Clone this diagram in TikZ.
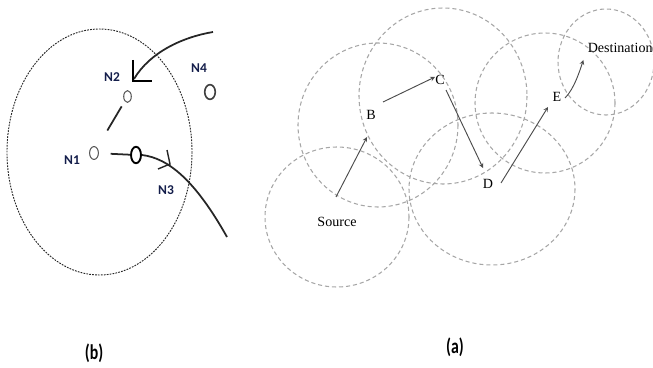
\documentclass[tikz,border=0pt]{standalone}
\usepackage{fontspec}
\setmainfont{Liberation Serif}
\newfontfamily\calibfont{Carlito}
\usetikzlibrary{shapes.geometric}
\definecolor{labelblue}{RGB}{20,30,75}

\begin{document}
\begin{tikzpicture}[>=stealth, x=0.03cm, y=-0.03cm,
    host/.style={draw=black!65, ellipse, inner sep=0pt, line width=0.9pt,
      minimum width=6.5pt, minimum height=10pt},
    nlabel/.style={font=\calibfont\bfseries\fontsize{11.5}{13}\selectfont,
      text=labelblue, inner sep=0pt},
    track/.style={line width=1.5pt, black!85},
    coverage/.style={gray!70, line width=0.9pt, dash pattern=on 3.5pt off 2.5pt},
    hop/.style={->, black!70, line width=0.8pt},
    tag/.style={font=\fontsize{12}{14}\selectfont, inner sep=1pt},
    caption/.style={font=\calibfont\bfseries\fontsize{18}{20}\selectfont, xscale=0.75}]
    \useasboundingbox (0,0) rectangle (653,367);

    % 1. Hình (b): vùng phủ sóng của N1
    \draw[black!85, line width=0.8pt, dash pattern=on 1.5pt off 1pt]
        (99.5,152) ellipse (92.5 and 123);

    % Các nút
    \node[host] (n2) at (127.5,96.5) {};
    \node[host, minimum width=7.5pt, minimum height=11pt] (n1) at (94,153) {};
    \node[host, draw=black, line width=1.6pt, minimum width=8.5pt, minimum height=14pt] (n3) at (136,155) {};
    \node[host, draw=black!75, line width=1.4pt, minimum width=9pt, minimum height=12.5pt] (n4) at (210,92) {};

    \node[nlabel] (l2) at (112,77) {N2};
    \node[nlabel] (l4) at (199,68) {N4};
    \node[nlabel] (l1) at (72,160) {N1};
    \node[nlabel] (l3) at (166,190) {N3};

    % Liên kết và đường di chuyển
    \draw[track, shorten <=17pt, shorten >=5pt] (n1) -- (n2);
    \draw[track, shorten <=10pt] (n1) -- (n3);
    \draw[track] (n3.east) .. controls (168,158) and (195,180) .. (227,237) coordinate (t3);
    \draw[track, line width=1.2pt] (167,150) -- (170,164) -- (158,169);

    \draw[track] (213,32) coordinate (t2) .. controls (183,37) and (150,52) .. (134,79);
    \draw[line width=1pt] (133,60) -- (133,82);
    \draw[line width=2.5pt] (133,81) -- (152,81);

    % 2. Hình (a): các vùng phủ sóng
    \draw[coverage] (337,217) ellipse (72 and 70);
    \draw[coverage] (378,125) ellipse (80 and 82);
    \draw[coverage] (443,96) ellipse (84 and 88);
    \draw[coverage] (492,189) ellipse (83 and 76);
    \draw[coverage] (545,103) ellipse (70 and 70);
    \draw[coverage] (606,62) ellipse (48 and 53);

    % Nhãn các nút
    \node[tag] (src) at (337,222) {Source};
    \node[tag] (hb) at (371,115) {B};
    \node[tag] (hc) at (440,80) {C};
    \node[tag] (hd) at (488,184) {D};
    \node[tag] (he) at (557,97) {E};
    \node[tag, anchor=east] (dst) at (654,48) {Destination};

    % Đường đi
    \draw[hop] ([shift={(-1,-25)}]src.center) -- ([shift={(-4,22)}]hb.center);
    \draw[hop] ([shift={(12,-13)}]hb.center) -- ([shift={(-5,-3)}]hc.center);
    \draw[hop] ([shift={(6,10)}]hc.center) -- ([shift={(-5,-16)}]hd.center);
    \draw[hop] ([shift={(13,-1)}]hd.center) -- ([shift={(-9,10)}]he.center);
    \draw[hop] ([shift={(8,1)}]he.center) .. controls +(9,-9) and +(-4,12) .. ([shift={(-3,12)}]dst.west);

    % 3. Chú thích
    \node[caption] (capb) at (94,353) {(b)};
    \node[caption] (capa) at (455,347) {(a)};
\end{tikzpicture}
\end{document}
